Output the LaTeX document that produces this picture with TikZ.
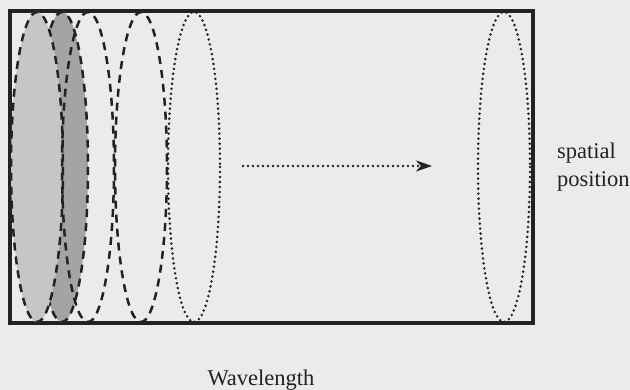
\documentclass[tikz,border=0pt]{standalone}
\usepackage{xcolor}
\usepackage{fontspec}
\setmainfont{Liberation Serif}
\usepackage{tikz}
\usetikzlibrary{arrows.meta}
\definecolor{paper}{HTML}{EBEBEB}
\definecolor{lightshade}{HTML}{C6C6C6}
\definecolor{darkshade}{HTML}{A4A4A4}
\definecolor{inkgray}{HTML}{222222}

\begin{document}
\begin{tikzpicture}[x=1pt, y=-1pt,
    frame/.style={draw=inkgray, line width=3.5pt},
    pulse/.style={draw=inkgray, line width=2.5pt, dash pattern=on 8pt off 6pt},
    faded/.style={draw=inkgray, line width=2.8pt, line cap=round, dash pattern=on 0pt off 5pt},
    label/.style={font=\fontsize{22.5}{28}\selectfont, text=inkgray, inner sep=0pt}]
  \fill[paper] (0,0) rectangle (630,390);
  \useasboundingbox (0,0) rectangle (630,390);
  % the box
  \draw[frame] (10,11) rectangle (533,323);
  % pulses, shaded ones first
  \path[pulse, fill=darkshade] (62,167) ellipse [x radius=26, y radius=155];
  \path[pulse, fill=lightshade] (37,167) ellipse [x radius=26, y radius=155];
  \path[pulse] (88,167) ellipse [x radius=26, y radius=155];
  \path[pulse] (141,167) ellipse [x radius=26, y radius=155];
  \path[faded] (194,167) ellipse [x radius=26, y radius=155];
  \path[faded] (504,167) ellipse [x radius=26, y radius=155];
  % direction of travel
  \coordinate (travelstart) at (243,166);
  \coordinate (travelend) at (432,166);
  \draw[faded, -{Stealth[length=16pt, width=11pt, inset=5pt]}] (travelstart) -- (travelend);
  % labels
  \node[label, anchor=west, align=left] (position) at (557,167) {spatial\\position};
  \node[label, anchor=base] (wavelength) at (261,385) {Wavelength};
\end{tikzpicture}
\end{document}
